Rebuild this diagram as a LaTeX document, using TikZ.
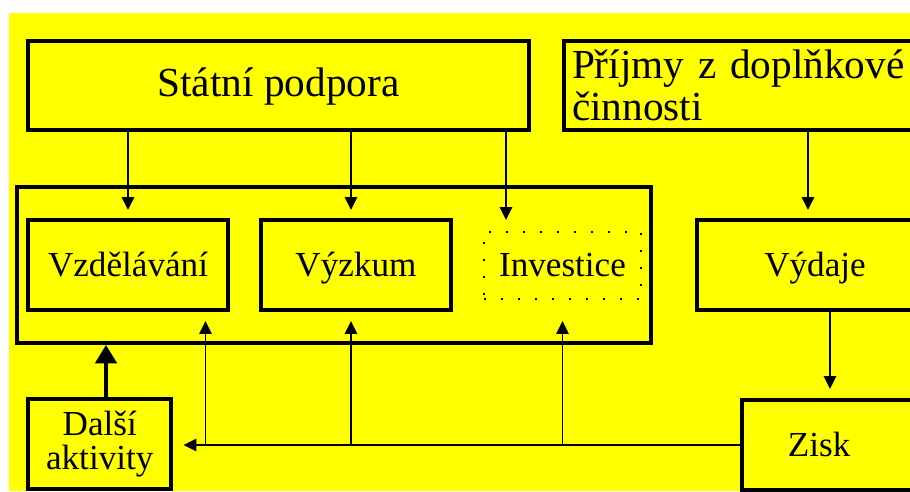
\documentclass[tikz,border=0pt]{standalone}
\usepackage{fontspec}
\setmainfont{Liberation Serif}
\usetikzlibrary{arrows.meta}
\definecolor{zluta}{RGB}{255,255,0}
\newcommand\velky{\fontsize{23.5}{24}\selectfont}
\newcommand\maly{\fontsize{20}{19.5}\selectfont}
\begin{document}
\begin{tikzpicture}[x=0.02cm,y=-0.02cm,
     box/.style={draw,line width=0.08cm,font=\maly},
     radek/.style={text height=17pt,text depth=4pt},
     dotbox/.style={draw,line width=0.04cm,dash pattern=on 0.04cm off 0.3cm,font=\maly},
     tok/.style={line width=0.025cm,-{Triangle[length=0.26cm,width=0.25cm]}},
     silny/.style={line width=0.08cm,-{Triangle[length=0.37cm,width=0.43cm]}}]
     \useasboundingbox (0,0) rectangle (910,491);
     \fill[white] (0,0) rectangle (910,491);
     \clip (0,0) rectangle (910,491);
     \fill[zluta] (9,13) rectangle (910,491);
     % zdroje penez
     \node[box,radek,font=\velky,minimum width=10.02cm,minimum height=1.78cm] (statni) at (278.5,85.5) {Státní podpora};
     \node[box,font=\velky,anchor=west,minimum height=1.78cm,text width=7.24cm,inner xsep=0.16cm,align=left] (prijmy) at (562,85.5) {Příjmy z doplňkové\\činnosti};
     % cinnosti
     \node[box,minimum width=12.68cm,minimum height=3.13cm] (hlavni) at (334,264.75) {};
     \node[box,radek,minimum width=4cm,minimum height=1.81cm] (vzdelavani) at (128,265.25) {Vzdělávání};
     \node[box,radek,minimum width=3.8cm,minimum height=1.81cm] (vyzkum) at (356,265.25) {Výzkum};
     \node[dotbox,radek,minimum width=3.14cm,minimum height=1.34cm] (investice) at (562.5,265.5) {Investice};
     \node[box,radek,minimum width=4.72cm,minimum height=1.81cm] (vydaje) at (815,265.25) {Výdaje};
     \node[box,align=center,minimum width=2.87cm,minimum height=1.79cm] (dalsi) at (99.75,444) {Další\\aktivity};
     \node[box,radek,anchor=west,minimum height=1.8cm,text width=2.56cm,inner xsep=0.92cm,align=left] (zisk) at (740,445) {Zisk};
     % sipky shora
     \draw[tok,shorten >=0.16cm] (statni.south -| vzdelavani.north) -- (vzdelavani.north);
     \coordinate (s2) at ([xshift=-0.1cm]vyzkum.north);
     \draw[tok,shorten >=0.16cm] (statni.south -| s2) -- (s2);
     \coordinate (s3) at ([xshift=0.46cm]investice.north west);
     \draw[tok,shorten >=0.22cm] (statni.south -| s3) -- (s3);
     \coordinate (s4) at ([xshift=-0.14cm]vydaje.north);
     \draw[tok,shorten >=0.16cm] (prijmy.south -| s4) -- (s4);
     \draw[tok,shorten >=0.18cm] ([xshift=0.3cm]vydaje.south) coordinate (s5) -- (s5 |- zisk.north);
     % zpetna vazba ze zisku
     \draw[tok,shorten >=0.2cm] (zisk.west) -- (dalsi.east |- zisk.west);
     \coordinate (u1) at ([xshift=1.55cm]vzdelavani.south);
     \coordinate (u2) at ([xshift=-0.1cm]vyzkum.south);
     \coordinate (u3) at (investice.south |- vzdelavani.south);
     \draw[tok,shorten >=0.17cm] (zisk.west -| u1) -- (u1);
     \draw[tok,shorten >=0.17cm] (zisk.west -| u2) -- (u2);
     \draw[tok,shorten >=0.17cm] (zisk.west -| u3) -- (u3);
     \draw[silny] ([xshift=0.125cm]dalsi.north) coordinate (d) -- (d |- hlavni.south);
\end{tikzpicture}
\end{document}
